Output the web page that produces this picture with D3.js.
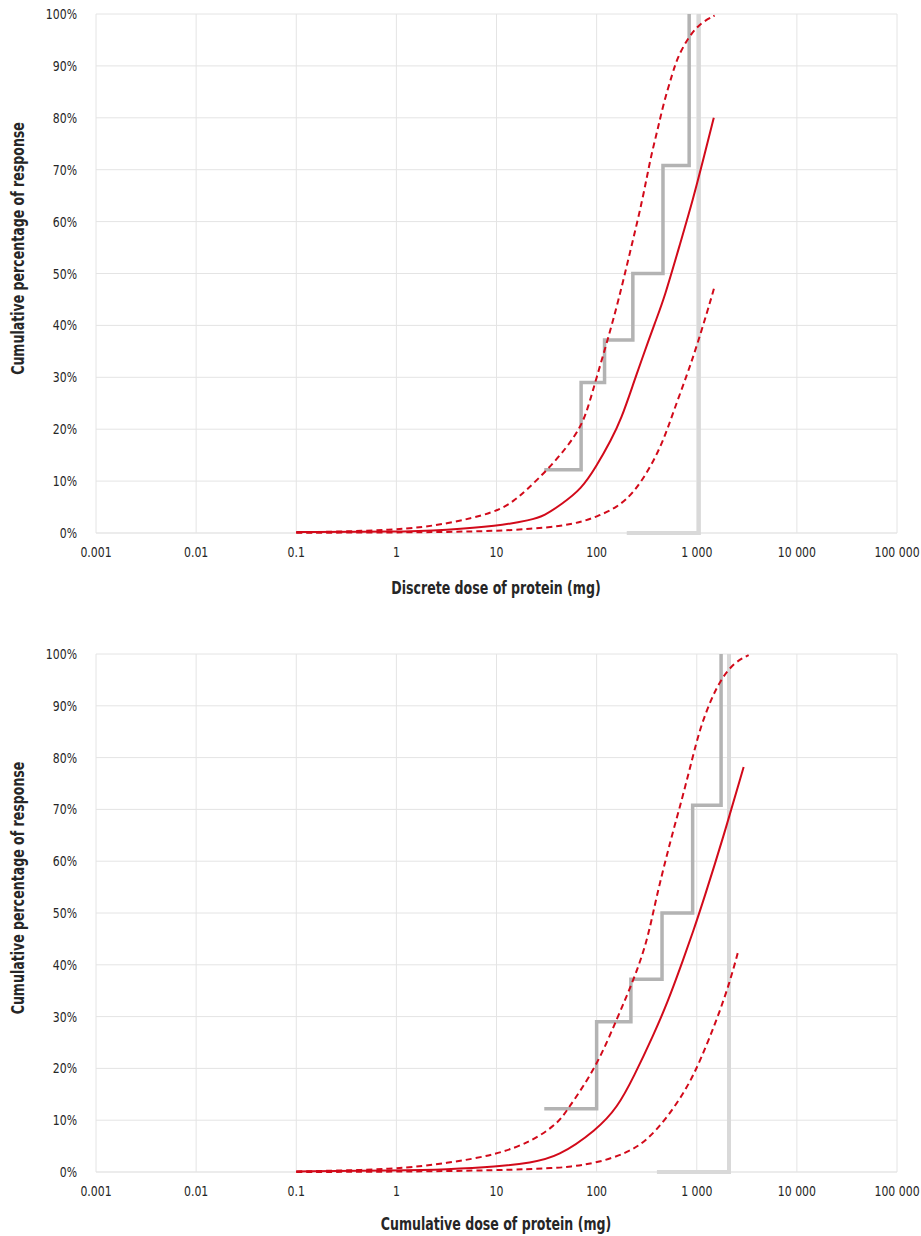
<!DOCTYPE html>
<html>
<head>
<meta charset="utf-8">
<script src="https://cdn.jsdelivr.net/npm/d3@7"></script>
<style>
body { margin: 0; background: #fff; }
text { font-family: "DejaVu Sans", sans-serif; fill: #262626; }
</style>
</head>
<body>
<svg id="svg" width="921" height="1236"></svg>
<script>
// axis ticks
var xTicks = [0.001, 0.01, 0.1, 1, 10, 100, 1000, 10000, 100000];
var xTickLabels = ["0.001", "0.01", "0.1", "1", "10", "100", "1 000", "10 000", "100 000"];
var yTicks = [0, 10, 20, 30, 40, 50, 60, 70, 80, 90, 100];

// discrete dose chart
var discreteStepDose = [30, 70, 120, 230, 460, 840];
var discreteStepPct = [12.2, 29, 37.2, 50, 70.8, 100];
var discreteBarDose = [200, 1050, 1050];
var discreteBarPct = [0, 0, 100];
var discreteFitDose = [0.1, 1, 3.2, 10, 22, 30, 45, 70, 100, 140, 175, 235, 275, 390, 470, 700, 910, 1200, 1480];
var discreteFitPct = [0.2, 0.2, 0.6, 1.3, 2.5, 3.3, 5.6, 8.4, 12.9, 18, 21.8, 29, 32.8, 41, 45, 56.5, 64, 73, 80];
var discreteUpperDose = [0.1, 1, 3.2, 10, 15, 20, 32, 51, 69, 81, 100, 128, 166, 218, 288, 346, 406, 467, 574, 644, 830, 1090, 1510];
var discreteUpperPct = [0.1, 0.5, 1.7, 4, 6.2, 8.3, 12.1, 16.6, 20.4, 23.7, 30, 37, 44.9, 54.5, 64.2, 72.4, 77.6, 82.9, 88.6, 91.7, 95.6, 98.3, 99.7];
var discreteLowerDose = [0.1, 1, 3.2, 10, 22, 43, 69, 100, 162, 234, 346, 467, 588, 811, 1020, 1380, 1510];
var discreteLowerPct = [0.05, 0.1, 0.2, 0.4, 0.8, 1.3, 2.1, 3.1, 5, 7.7, 12.7, 17.9, 23.5, 30.8, 36.5, 44.9, 47.6];

// cumulative dose chart
var cumulStepDose = [30, 100, 220, 450, 910, 1750];
var cumulStepPct = [12.2, 29, 37.2, 50, 70.8, 100];
var cumulBarDose = [400, 2100, 2100];
var cumulBarPct = [0, 0, 100];
var cumulFitDose = [0.1, 1, 3.2, 10, 22, 41, 100, 162, 234, 371, 512, 690, 931, 1170, 1820, 2940];
var cumulFitPct = [0.1, 0.3, 0.5, 1, 1.8, 2.9, 8.1, 12.5, 18.3, 26.5, 32.8, 39.6, 46.7, 52.5, 64.3, 78.2];
var cumulUpperDose = [0.1, 1, 3.2, 10, 23, 41, 51, 100, 162, 234, 323, 388, 548, 723, 910, 1090, 1380, 1730, 2340, 3300];
var cumulUpperPct = [0.1, 0.5, 1.7, 3.3, 6, 9.4, 12, 20.3, 29.9, 37, 44.8, 52.5, 64.1, 72.4, 80.1, 85.9, 91.1, 95, 98.3, 99.8];
var cumulLowerDose = [0.1, 1, 10, 43, 51, 100, 204, 323, 512, 811, 1090, 1580, 2130, 2620];
var cumulLowerPct = [0, 0.05, 0.3, 0.8, 1, 1.7, 3.7, 6.2, 10.6, 16.4, 21.6, 29.3, 36.5, 42.9];

var svg = d3.select("#svg");
var red = "#d20a1a";
var squeeze = 0.78; // no condensed font installed, so squeeze text horizontally
var titleSqueeze = 0.74;

function zip(xs, ys) {
    return xs.map(function (d, i) { return [d, ys[i]]; });
}

function drawChart(opt) {
    var x = d3.scaleLog().domain([0.001, 100000]).range([96, 897]);
    var y = d3.scaleLinear().domain([0, 100]).range([opt.bottom, opt.top]);
    var g = svg.append("g");

    // grid
    g.selectAll(".hgrid").data(yTicks).enter().append("line")
        .attr("x1", x(0.001)).attr("x2", x(100000))
        .attr("y1", function (d) { return y(d); }).attr("y2", function (d) { return y(d); })
        .attr("stroke", function (d) { return d === 0 ? "#d9d9d9" : "#e4e4e4"; })
        .attr("stroke-width", 1);
    g.selectAll(".vgrid").data(xTicks).enter().append("line")
        .attr("x1", function (d) { return x(d); }).attr("x2", function (d) { return x(d); })
        .attr("y1", y(0)).attr("y2", y(100))
        .attr("stroke", "#e4e4e4")
        .attr("stroke-width", 1);

    // tick labels
    g.selectAll(".ylab").data(yTicks).enter().append("text")
        .attr("transform", function (d) { return "translate(77," + y(d) + ") scale(" + squeeze + ",1)"; })
        .attr("dy", "0.36em")
        .attr("text-anchor", "end")
        .style("font-size", "14px")
        .text(function (d) { return d + "%"; });
    g.selectAll(".xlab").data(xTicks).enter().append("text")
        .attr("transform", function (d) { return "translate(" + x(d) + "," + (opt.bottom + 19) + ") scale(" + squeeze + ",1)"; })
        .attr("dy", "0.36em")
        .attr("text-anchor", "middle")
        .style("font-size", "14px")
        .text(function (d, i) { return xTickLabels[i]; });

    // titles
    g.append("text")
        .attr("transform", "translate(496," + opt.xTitleY + ") scale(" + titleSqueeze + ",1)")
        .attr("dy", "0.36em")
        .attr("text-anchor", "middle")
        .style("font-size", "17px").style("font-weight", "bold")
        .text(opt.xTitle);
    g.append("text")
        .attr("transform", "translate(18," + ((opt.top + opt.bottom) / 2 - 25) + ") rotate(-90) scale(" + titleSqueeze + ",1)")
        .attr("dy", "0.36em")
        .attr("text-anchor", "middle")
        .style("font-size", "17px").style("font-weight", "bold")
        .text("Cumulative percentage of response");

    var line = d3.line()
        .x(function (d) { return x(d[0]); })
        .y(function (d) { return y(d[1]); });

    // light gray bar
    g.append("path")
        .datum(zip(opt.barDose, opt.barPct))
        .attr("d", line)
        .attr("fill", "none").attr("stroke", "#d9d9d9").attr("stroke-width", 4);

    // observed steps
    g.append("path")
        .datum(zip(opt.stepDose, opt.stepPct))
        .attr("d", line.curve(d3.curveStepAfter))
        .attr("fill", "none").attr("stroke", "#b3b3b3").attr("stroke-width", 3.5);
    line.curve(d3.curveBasis);

    // fitted curve and limits
    g.append("path")
        .datum(zip(opt.upperDose, opt.upperPct))
        .attr("d", line)
        .attr("fill", "none").attr("stroke", red).attr("stroke-width", 2)
        .attr("stroke-dasharray", "6,4");
    g.append("path")
        .datum(zip(opt.lowerDose, opt.lowerPct))
        .attr("d", line)
        .attr("fill", "none").attr("stroke", red).attr("stroke-width", 2)
        .attr("stroke-dasharray", "6,4");
    g.append("path")
        .datum(zip(opt.fitDose, opt.fitPct))
        .attr("d", line)
        .attr("fill", "none").attr("stroke", red).attr("stroke-width", 2);
}

drawChart({
    top: 14, bottom: 533, xTitleY: 588,
    xTitle: "Discrete dose of protein (mg)",
    stepDose: discreteStepDose, stepPct: discreteStepPct,
    barDose: discreteBarDose, barPct: discreteBarPct,
    fitDose: discreteFitDose, fitPct: discreteFitPct,
    upperDose: discreteUpperDose, upperPct: discreteUpperPct,
    lowerDose: discreteLowerDose, lowerPct: discreteLowerPct
});

drawChart({
    top: 654, bottom: 1172, xTitleY: 1224,
    xTitle: "Cumulative dose of protein (mg)",
    stepDose: cumulStepDose, stepPct: cumulStepPct,
    barDose: cumulBarDose, barPct: cumulBarPct,
    fitDose: cumulFitDose, fitPct: cumulFitPct,
    upperDose: cumulUpperDose, upperPct: cumulUpperPct,
    lowerDose: cumulLowerDose, lowerPct: cumulLowerPct
});
</script>
</body>
</html>
